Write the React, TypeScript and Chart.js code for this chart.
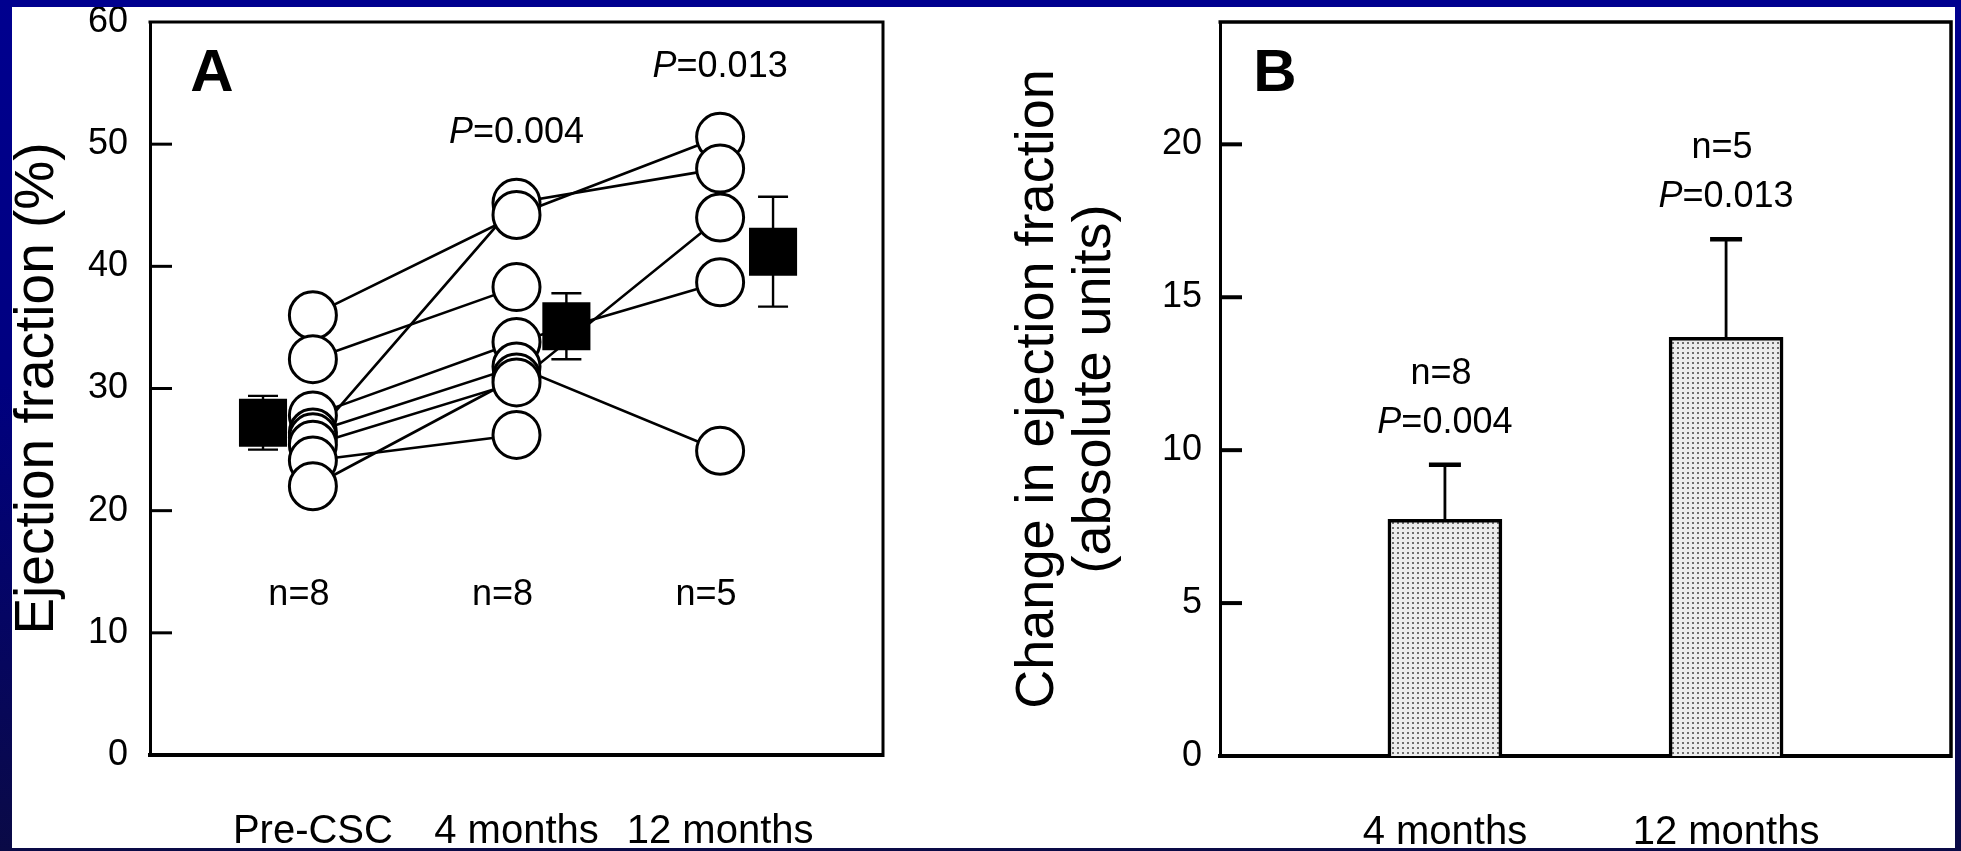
import React, { useEffect, useRef } from 'react';
import { Chart, registerables } from 'chart.js';

Chart.register(...registerables);

const FONT = "'Liberation Sans', Arial, Helvetica, sans-serif";

// ---------------- Panel A data ----------------
const categoriesA = ['Pre-CSC', '4 months', '12 months'];
const categoryPositionsA = [1, 2, 3];
const patient1 = [36.0, 44.2, 50.6];
const patient2 = [32.4, 38.3, null];
const patient3 = [26.0, 45.2, 48.0];
const patient4 = [27.8, 33.8, 38.7];
const patient5 = [26.4, 31.8, 24.9];
const patient6 = [25.4, 30.5, 44.0];
const patient7 = [24.1, 26.2, null];
const patient8 = [22.0, 30.9, null];
const patientsA = [patient1, patient2, patient3, patient4, patient5, patient6, patient7, patient8];
const meanA = [27.2, 35.1, 41.2];
const errorA = [2.2, 2.7, 4.5];
const meanShiftA = [-0.245, 0.245, 0.26];
const countLabelsA = ['n=8', 'n=8', 'n=5'];
const pValuesA = ['', '0.004', '0.013'];
const yTicksA = [0, 10, 20, 30, 40, 50, 60];

// ---------------- Panel B data ----------------
const categoriesB = ['4 months', '12 months'];
const categoryPositionsB = [1, 2];
const changeB = [7.74, 13.69];
const errorB = [1.78, 3.21];
const countLabelsB = ['n=8', 'n=5'];
const pValuesB = ['0.004', '0.013'];
const yTicksB = [0, 5, 10, 15, 20];

function drawPText(ctx: CanvasRenderingContext2D, value: string, cx: number, cy: number, size: number) {
  ctx.save();
  ctx.fillStyle = '#000';
  ctx.textBaseline = 'middle';
  ctx.textAlign = 'left';
  const italic = `italic ${size}px ${FONT}`;
  const normal = `${size}px ${FONT}`;
  ctx.font = italic;
  const wP = ctx.measureText('P').width;
  ctx.font = normal;
  const rest = '=' + value;
  const wR = ctx.measureText(rest).width;
  const x0 = cx - (wP + wR) / 2;
  ctx.font = italic;
  ctx.fillText('P', x0, cy);
  ctx.font = normal;
  ctx.fillText(rest, x0 + wP, cy);
  ctx.restore();
}

function drawCentered(ctx: CanvasRenderingContext2D, text: string, cx: number, cy: number, font: string) {
  ctx.save();
  ctx.fillStyle = '#000';
  ctx.font = font;
  ctx.textAlign = 'center';
  ctx.textBaseline = 'middle';
  ctx.fillText(text, cx, cy);
  ctx.restore();
}

function drawFrameAndTicks(chart: any, ticks: number[], tickLen: number, tickWidth: number, frameWidth: number) {
  const { ctx, chartArea } = chart;
  const y = chart.scales.y;
  ctx.save();
  ctx.strokeStyle = '#000';
  ctx.lineCap = 'butt';
  ctx.lineWidth = frameWidth;
  ctx.beginPath();
  ctx.moveTo(chartArea.left - 1.5, chartArea.top);
  ctx.lineTo(chartArea.right, chartArea.top);
  ctx.lineTo(chartArea.right, chartArea.bottom + 2);
  ctx.stroke();
  ctx.lineWidth = tickWidth;
  ticks.forEach((v) => {
    if (v <= y.min || v >= y.max) return;
    const py = y.getPixelForValue(v);
    ctx.beginPath();
    ctx.moveTo(chartArea.left, py);
    ctx.lineTo(chartArea.left + tickLen, py);
    ctx.stroke();
  });
  ctx.restore();
}

const panelAPlugin = {
  id: 'panelA',
  beforeDatasetsDraw(chart: any) {
    const { ctx } = chart;
    const xs = chart.scales.x;
    const ys = chart.scales.y;
    ctx.save();
    ctx.strokeStyle = '#000';
    ctx.lineWidth = 2.4;
    meanA.forEach((m, i) => {
      const px = xs.getPixelForValue(categoryPositionsA[i] + meanShiftA[i]);
      const top = ys.getPixelForValue(m + errorA[i]);
      const bot = ys.getPixelForValue(m - errorA[i]);
      ctx.beginPath();
      ctx.moveTo(px, top);
      ctx.lineTo(px, bot);
      ctx.moveTo(px - 15, top);
      ctx.lineTo(px + 15, top);
      ctx.moveTo(px - 15, bot);
      ctx.lineTo(px + 15, bot);
      ctx.stroke();
    });
    ctx.restore();
  },
  afterDraw(chart: any) {
    const { ctx, chartArea } = chart;
    const xs = chart.scales.x;
    const ys = chart.scales.y;
    drawFrameAndTicks(chart, yTicksA, 22, 3, 3);
    drawCentered(ctx, 'A', chartArea.left + 62, chartArea.top + 52, `bold 60px ${FONT}`);
    const countLevel = ys.getPixelForValue(13.1);
    countLabelsA.forEach((t, i) => {
      drawCentered(ctx, t, xs.getPixelForValue(categoryPositionsA[i]) - 14, countLevel, `36px ${FONT}`);
    });
    pValuesA.forEach((p, i) => {
      if (!p) return;
      const vals = patientsA.map((pt) => pt[i]).filter((v) => v !== null) as number[];
      const topPx = ys.getPixelForValue(Math.max(...vals));
      drawPText(ctx, p, xs.getPixelForValue(categoryPositionsA[i]), topPx - 70, 36);
    });
  },
};

const panelBPlugin = {
  id: 'panelB',
  afterDatasetsDraw(chart: any) {
    const { ctx } = chart;
    const xs = chart.scales.x;
    const ys = chart.scales.y;
    ctx.save();
    ctx.strokeStyle = '#000';
    changeB.forEach((v, i) => {
      const px = xs.getPixelForValue(categoryPositionsB[i]);
      const base = ys.getPixelForValue(v);
      const top = ys.getPixelForValue(v + errorB[i]);
      ctx.lineWidth = 2.8;
      ctx.beginPath();
      ctx.moveTo(px, base);
      ctx.lineTo(px, top);
      ctx.stroke();
      ctx.lineWidth = 4.5;
      ctx.beginPath();
      ctx.moveTo(px - 16, top);
      ctx.lineTo(px + 16, top);
      ctx.stroke();
    });
    ctx.restore();
  },
  afterDraw(chart: any) {
    const { ctx, chartArea } = chart;
    const xs = chart.scales.x;
    const ys = chart.scales.y;
    drawFrameAndTicks(chart, yTicksB, 22, 4, 3.5);
    drawCentered(ctx, 'B', chartArea.left + 55, chartArea.top + 52, `bold 60px ${FONT}`);
    changeB.forEach((v, i) => {
      const px = xs.getPixelForValue(categoryPositionsB[i]);
      const top = ys.getPixelForValue(v + errorB[i]);
      drawPText(ctx, pValuesB[i], px, top - 42, 36);
      drawCentered(ctx, countLabelsB[i], px - 4, top - 91, `36px ${FONT}`);
    });
  },
};

function fixY(width: number) {
  return (axis: any) => {
    axis.width = width;
    axis.paddingTop = 0;
    axis.paddingBottom = 0;
  };
}
function fixX(height: number) {
  return (axis: any) => {
    axis.height = height;
    axis.paddingLeft = 0;
    axis.paddingRight = 0;
  };
}

export default function App() {
  const refA = useRef<HTMLCanvasElement>(null);
  const refB = useRef<HTMLCanvasElement>(null);

  useEffect(() => {
    if (!refA.current || !refB.current) return;

    // ----- Panel A -----
    const lineSets = patientsA.map((p) => ({
      type: 'scatter' as const,
      data: categoryPositionsA.map((x, i) => ({ x, y: p[i] })),
      showLine: true,
      borderColor: '#000',
      borderWidth: 2.6,
      pointRadius: 0,
      pointHoverRadius: 0,
      spanGaps: false,
      order: 3,
    }));
    const circlePoints: { x: number; y: number }[] = [];
    categoryPositionsA.forEach((x, i) => {
      const vals = patientsA.map((p) => p[i]).filter((v) => v !== null) as number[];
      vals.sort((a, b) => b - a).forEach((y) => circlePoints.push({ x, y }));
    });
    const chartA = new Chart(refA.current, {
      type: 'scatter',
      data: {
        datasets: [
          ...lineSets,
          {
            type: 'scatter',
            data: circlePoints,
            showLine: false,
            pointRadius: 23.5,
            pointHoverRadius: 23.5,
            pointBackgroundColor: '#fff',
            pointBorderColor: '#000',
            pointBorderWidth: 3,
            order: 2,
          },
          {
            type: 'scatter',
            data: meanA.map((m, i) => ({ x: categoryPositionsA[i] + meanShiftA[i], y: m })),
            showLine: false,
            pointStyle: 'rect',
            pointRadius: 34,
            pointHoverRadius: 34,
            pointBackgroundColor: '#000',
            pointBorderColor: '#000',
            pointBorderWidth: 0,
            order: 1,
          },
        ] as any,
      },
      options: {
        animation: false,
        responsive: false,
        maintainAspectRatio: false,
        devicePixelRatio: 1,
        events: [],
        layout: { autoPadding: false, padding: { top: 22, right: 77, left: 0, bottom: 0 } },
        plugins: { legend: { display: false }, tooltip: { enabled: false } },
        scales: {
          x: {
            type: 'linear',
            min: 0.2,
            max: 3.8,
            grid: { display: false, drawTicks: false },
            border: { display: true, color: '#000', width: 4 },
            afterBuildTicks: (axis: any) => {
              axis.ticks = categoryPositionsA.map((v) => ({ value: v }));
            },
            ticks: {
              autoSkip: false,
              maxRotation: 0,
              minRotation: 0,
              padding: 53,
              color: '#000',
              font: { family: FONT, size: 40 },
              callback: (value: any) => categoriesA[categoryPositionsA.indexOf(Number(value))] ?? '',
            },
            afterFit: fixX(96),
          },
          y: {
            type: 'linear',
            min: 0,
            max: 60,
            grid: { display: false, drawTicks: false },
            border: { display: true, color: '#000', width: 3 },
            afterBuildTicks: (axis: any) => {
              axis.ticks = yTicksA.map((v) => ({ value: v }));
            },
            ticks: {
              padding: 22,
              color: '#000',
              font: { family: FONT, size: 36 },
            },
            title: {
              display: true,
              text: 'Ejection fraction (%)',
              color: '#000',
              font: { family: FONT, size: 55, lineHeight: 1 },
              padding: { top: 10, bottom: 0 },
            },
            afterFit: fixY(150),
          },
        },
      } as any,
      plugins: [panelAPlugin],
    });

    // ----- Panel B -----
    const stippleCanvas = document.createElement('canvas');
    stippleCanvas.width = 5;
    stippleCanvas.height = 5;
    const sg = stippleCanvas.getContext('2d')!;
    sg.fillStyle = '#ececec';
    sg.fillRect(0, 0, 5, 5);
    sg.fillStyle = '#6e6e6e';
    sg.fillRect(2, 2, 2, 2);
    const stipple = refB.current.getContext('2d')!.createPattern(stippleCanvas, 'repeat');

    const chartB = new Chart(refB.current, {
      type: 'bar',
      data: {
        datasets: [
          {
            data: changeB.map((v, i) => ({ x: categoryPositionsB[i], y: v })),
            backgroundColor: stipple as any,
            borderColor: '#000',
            borderWidth: 3.5,
            borderSkipped: 'bottom',
            barThickness: 114,
          },
        ],
      },
      options: {
        animation: false,
        responsive: false,
        maintainAspectRatio: false,
        devicePixelRatio: 1,
        events: [],
        layout: { autoPadding: false, padding: { top: 22, right: 10, left: 0, bottom: 0 } },
        plugins: { legend: { display: false }, tooltip: { enabled: false } },
        scales: {
          x: {
            type: 'linear',
            min: 0.2,
            max: 2.8,
            offset: false,
            grid: { display: false, drawTicks: false },
            border: { display: true, color: '#000', width: 4 },
            afterBuildTicks: (axis: any) => {
              axis.ticks = categoryPositionsB.map((v) => ({ value: v }));
            },
            ticks: {
              autoSkip: false,
              maxRotation: 0,
              minRotation: 0,
              padding: 53,
              color: '#000',
              font: { family: FONT, size: 40 },
              callback: (value: any) => categoriesB[categoryPositionsB.indexOf(Number(value))] ?? '',
            },
            afterFit: fixX(95),
          },
          y: {
            type: 'linear',
            min: 0,
            max: 24,
            grid: { display: false, drawTicks: false },
            border: { display: true, color: '#000', width: 3 },
            afterBuildTicks: (axis: any) => {
              axis.ticks = yTicksB.map((v) => ({ value: v }));
            },
            ticks: {
              padding: 18,
              color: '#000',
              font: { family: FONT, size: 36 },
            },
            title: {
              display: true,
              text: ['Change in ejection fraction', '(absolute units)'],
              color: '#000',
              font: { family: FONT, size: 54, lineHeight: 1.056 },
              padding: { top: 50, bottom: 0 },
            },
            afterFit: fixY(260),
          },
        },
      } as any,
      plugins: [panelBPlugin],
    });

    return () => {
      chartA.destroy();
      chartB.destroy();
    };
  }, []);

  return (
    <div
      style={{
        position: 'absolute',
        left: 0,
        top: 0,
        width: 1961,
        height: 851,
        overflow: 'hidden',
        background: 'linear-gradient(to bottom, #00008f 0%, #000080 45%, #0a0a46 100%)',
      }}
    >
      <div
        style={{
          position: 'absolute',
          left: 12,
          top: 7,
          width: 1943,
          height: 841,
          background: '#fff',
          overflow: 'hidden',
        }}
      >
        <canvas
          ref={refA}
          width={960}
          height={851}
          style={{ position: 'absolute', left: -12, top: -7, width: 960, height: 851 }}
        />
        <canvas
          ref={refB}
          width={1001}
          height={851}
          style={{ position: 'absolute', left: 948, top: -7, width: 1001, height: 851 }}
        />
      </div>
    </div>
  );
}
